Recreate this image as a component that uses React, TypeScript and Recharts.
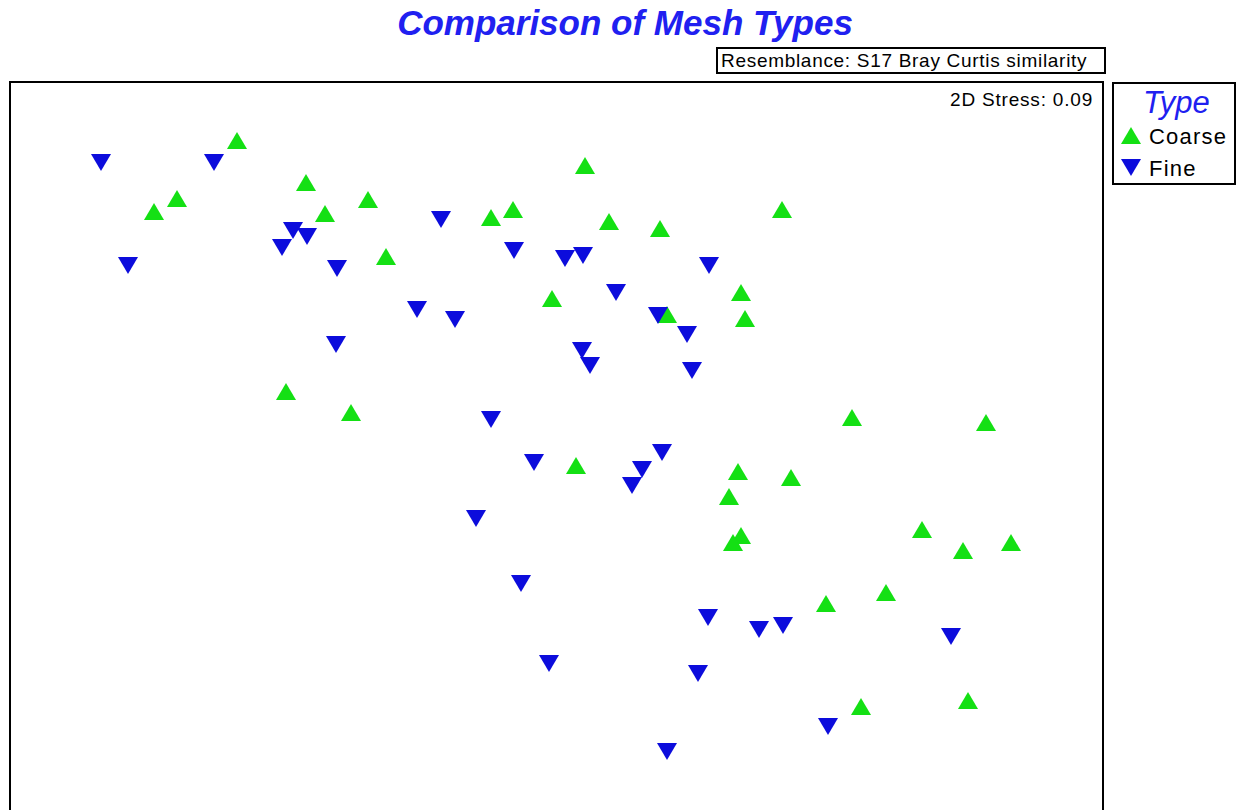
import { ScatterChart, Scatter, XAxis, YAxis, ReferenceArea } from 'recharts';

// NMDS ordination points, in plot units (x to the right, y downward from plot top)
const coarseX = [227, 167, 144, 296, 315, 358, 376, 575, 481, 503, 599, 650, 772, 542, 657, 731, 735, 276, 341, 566, 842, 976, 728, 781, 719, 731, 723, 912, 953, 1001, 816, 876, 851, 958];
const coarseY = [59, 117, 130, 101, 132, 118, 175, 84, 136, 128, 140, 147, 128, 217, 233, 211, 237, 310, 331, 384, 336, 341, 390, 396, 415, 454, 461, 448, 469, 461, 522, 511, 625, 619];

const fineX = [91, 204, 118, 283, 297, 272, 327, 431, 504, 555, 573, 699, 606, 407, 445, 326, 648, 677, 572, 580, 682, 481, 524, 652, 632, 622, 466, 511, 698, 749, 773, 941, 539, 688, 818, 657];
const fineY = [80, 80, 183, 148, 154, 165, 186, 137, 168, 176, 173, 183, 210, 227, 237, 262, 233, 252, 268, 283, 288, 337, 380, 370, 387, 403, 436, 501, 535, 547, 543, 554, 581, 591, 644, 669];

const coarse = coarseX.map((x, i) => ({ x, y: coarseY[i] }));
const fine = fineX.map((x, i) => ({ x, y: fineY[i] }));

const GREEN = '#14e014';
const BLUE = '#0c0cdc';
const FONT = '"Liberation Sans", Arial, sans-serif';

function UpTri(props: any) {
  const { cx, cy } = props;
  return <polygon points={`${cx - 10},${cy + 8} ${cx + 10},${cy + 8} ${cx},${cy - 9}`} fill={GREEN} />;
}

function DownTri(props: any) {
  const { cx, cy } = props;
  return <polygon points={`${cx - 10},${cy - 8} ${cx + 10},${cy - 8} ${cx},${cy + 9}`} fill={BLUE} />;
}

export default function App() {
  return (
    <div style={{ position: 'absolute', left: 0, top: 0, width: 1239, height: 810, overflow: 'hidden', background: '#fff', fontFamily: FONT }}>
      <div style={{ position: 'absolute', left: 0, width: 1250, top: 3, textAlign: 'center', color: '#2020f0', fontSize: 35, fontWeight: 'bold', fontStyle: 'italic' }}>
        Comparison of Mesh Types
      </div>
      <div style={{ position: 'absolute', left: 716, top: 47, width: 383, height: 23, border: '2px solid #000', fontSize: 19, lineHeight: '23px', paddingLeft: 3, letterSpacing: 0.7, boxSizing: 'content-box', whiteSpace: 'nowrap' }}>
        Resemblance: S17 Bray Curtis similarity
      </div>
      <div style={{ position: 'absolute', right: 1239 - 1093, top: 89, fontSize: 19, letterSpacing: 0.8, whiteSpace: 'nowrap' }}>2D Stress: 0.09</div>

      <div style={{ position: 'absolute', left: 1112, top: 82, width: 124, height: 103, border: '2px solid #000', boxSizing: 'border-box' }}>
        <div style={{ position: 'absolute', left: 29, top: 1, fontSize: 31, fontStyle: 'italic', color: '#2020f0' }}>Type</div>
        <svg style={{ position: 'absolute', left: 6, top: 43 }} width={22} height={55}>
          <polygon points="1,17 21,17 11,0" fill={GREEN} />
          <polygon points="1,32 21,32 11,49" fill={BLUE} />
        </svg>
        <div style={{ position: 'absolute', left: 35, top: 40, fontSize: 22, letterSpacing: 1.2 }}>Coarse</div>
        <div style={{ position: 'absolute', left: 35, top: 72, fontSize: 22, letterSpacing: 1.2 }}>Fine</div>
      </div>

      <ScatterChart width={1239} height={822} margin={{ top: 82, left: 10, right: 136, bottom: 8 }}>
        <XAxis type="number" dataKey="x" domain={[0, 1093]} hide />
        <YAxis type="number" dataKey="y" domain={[0, 732]} reversed hide />
        <ReferenceArea x1={0} x2={1093} y1={0} y2={732} fill="none" stroke="#000" strokeWidth={2} />
        <Scatter name="Coarse" data={coarse} shape={<UpTri />} isAnimationActive={false} />
        <Scatter name="Fine" data={fine} shape={<DownTri />} isAnimationActive={false} />
      </ScatterChart>
    </div>
  );
}
